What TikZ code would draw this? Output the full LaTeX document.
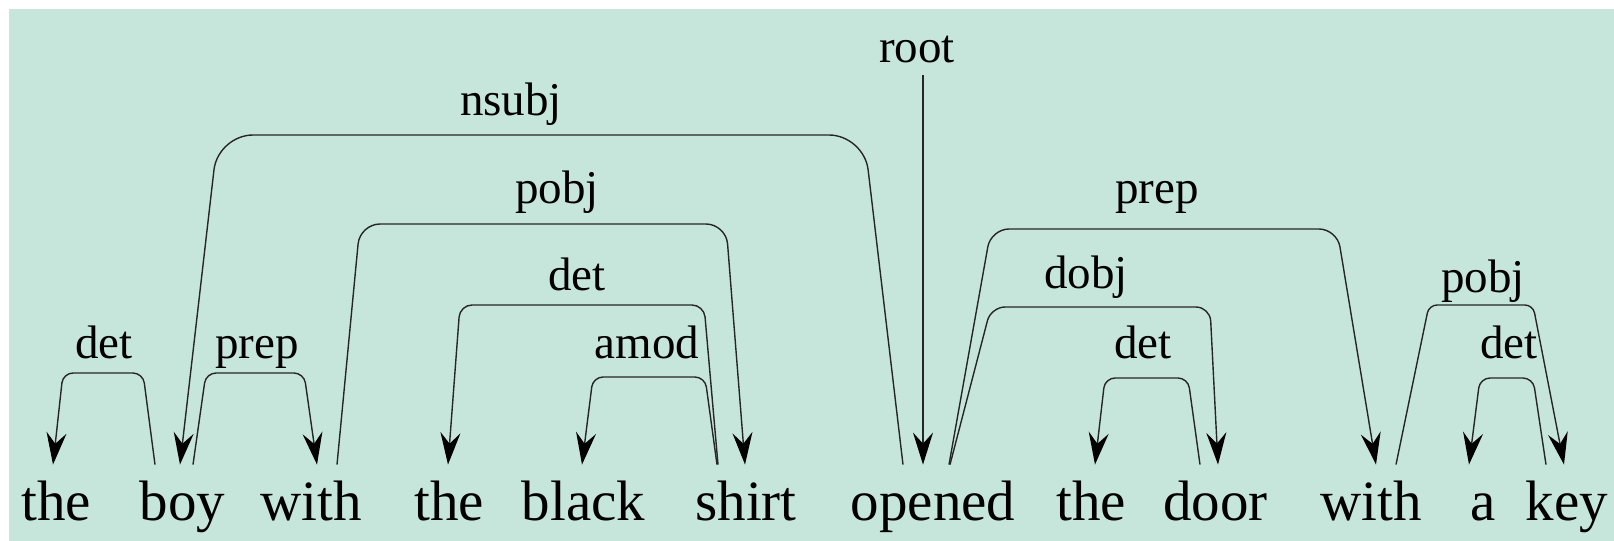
\documentclass[tikz,border=0pt]{standalone}
\usepackage{fontspec}
\setmainfont{Liberation Serif}
\usetikzlibrary{arrows.meta,calc}
\definecolor{bgmint}{RGB}{199,230,219}
\begin{document}
\begin{tikzpicture}[x=0.5pt,y=-0.5pt,
  word/.style={anchor=base,inner sep=0pt,text height=27.5pt,text depth=8pt,font=\fontsize{28.5}{30}\selectfont},
  lab/.style={anchor=base,inner sep=0pt,font=\fontsize{23.5}{25}\selectfont},
  dep/.style={draw=black!85,line width=0.7pt,-{Stealth[length=16pt,width=10pt,inset=5.5pt,color=black]}},
]
\useasboundingbox (0,0) rectangle (1614,541);
\fill[white] (0,0) rectangle (1614,541);
\fill[bgmint] (9,9) rectangle (1614,541);

% words
\node[word] (w1) at (56,520) {the};
\node[word] (w2) at (182.5,520) {boy};
\node[word] (w3) at (311,520) {with};
\node[word] (w4) at (449,520) {the};
\node[word] (w5) at (583.5,520) {black};
\node[word] (w6) at (746,520) {shirt};
\node[word] (w7) at (933,520) {opened};
\node[word] (w8) at (1091,520) {the};
\node[word] (w9) at (1215.5,520) {door};
\node[word] (w10) at (1371.5,520) {with};
\node[word] (w11) at (1483,520) {a};
\node[word] (w12) at (1567,520) {key};

% labels
\node[lab] (l1) at (104,358) {det};
\node[lab] (l2) at (257,358) {prep};
\node[lab] (l3) at (511,115) {nsubj};
\node[lab] (l4) at (557,203) {pobj};
\node[lab] (l5) at (577,290) {det};
\node[lab] (l6) at (647,358) {amod};
\node[lab] (l7) at (917,62) {root};
\node[lab] (l8) at (1086,288) {dobj};
\node[lab] (l9) at (1157,203) {prep};
\node[lab] (l10) at (1143,358) {det};
\node[lab] (l11) at (1483,292) {pobj};
\node[lab] (l12) at (1509,358) {det};

% arcs
\draw[dep,rounded corners=5pt] ($(w2.north)+(-27.5,0)$) -- (143,373) -- (63,373) -- ($(w1.north)+(-3,0)$);
\draw[dep,rounded corners=5pt] ($(w2.north)+(10.5,0)$) -- (206,373) -- (304,373) -- ($(w3.north)+(6,0)$);
\draw[dep,rounded corners=17.5pt] ($(w7.north)+(-30,0)$) -- (864,135) -- (218,135) -- ($(w2.north)+(-2.5,0)$);
\draw[dep,rounded corners=10pt] ($(w3.north)+(26,0)$) -- (360,224) -- (726,224) -- ($(w6.north)+(-1,0)$);
\draw[dep,rounded corners=6pt] ($(w6.north)+(-28,0)$) -- (704,305) -- (460,305) -- ($(w4.north)+(-1,0)$);
\draw[dep,rounded corners=5pt] ($(w6.north)+(-29,0)$) -- (705,377) -- (593,377) -- ($(w5.north)+(-1.5,0)$);
\coordinate (rt) at (923,75);
\draw[dep] (rt) -- ($(w7.north)+(-10,0)$);
\draw[dep,rounded corners=7pt] ($(w7.north)+(17,0)$) -- (991,307) -- (1210,307) -- ($(w9.north)+(2.5,0)$);
\draw[dep,rounded corners=9pt] ($(w7.north)+(16,0)$) -- (991,229) -- (1337,229) -- ($(w10.north)+(4.5,0)$);
\draw[dep,rounded corners=5pt] ($(w9.north)+(-15.5,0)$) -- (1188,378) -- (1105,378) -- ($(w8.north)+(4,0)$);
\draw[dep,rounded corners=4pt] ($(w10.north)+(24.5,0)$) -- (1429,305) -- (1533,305) -- ($(w12.north)+(-3,0)$);
\draw[dep,rounded corners=5pt] ($(w12.north)+(-21,0)$) -- (1533,378) -- (1480,378) -- ($(w11.north)+(-14,0)$);
\end{tikzpicture}
\end{document}
